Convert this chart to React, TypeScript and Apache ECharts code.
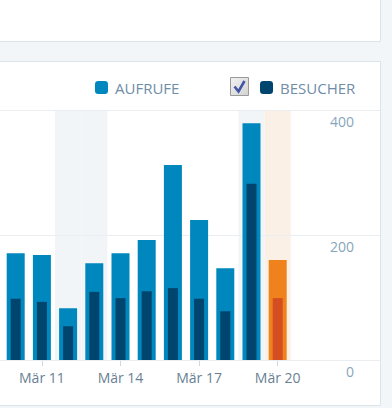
import React, { useEffect, useRef } from "react";
import * as echarts from "echarts";

const categories = ["Mär 10", "Mär 11", "Mär 12", "Mär 13", "Mär 14", "Mär 15", "Mär 16", "Mär 17", "Mär 18", "Mär 19", "Mär 20"];
const views = [171, 168, 83, 155, 171, 192, 312, 224, 147, 379, 160];
const visitors = [98, 93, 54, 109, 99, 110, 115, 98, 78, 282, 99];
const weekend = [false, false, true, true, false, false, false, false, false, true, true];
const selectedIndex = 10;
const yTicks = [0, 200, 400];

const FONT = "'Open Sans', 'Noto Sans', sans-serif";

export default function App() {
  const ref = useRef<HTMLDivElement>(null);
  useEffect(() => {
    document.body.style.margin = "0";
    const chart = echarts.init(ref.current!, null, { renderer: "svg" });
    const yMax = yTicks[yTicks.length - 1];
    const tickInterval = (i: number) => i % 3 === 1;

    const shadeData = weekend.map((w, i) =>
      w || i === selectedIndex
        ? { value: yMax, itemStyle: { color: i === selectedIndex ? "#fbf0e6" : "#f2f5f8" } }
        : null
    );
    const viewsData = views.map((v, i) =>
      i === selectedIndex ? { value: v, itemStyle: { color: "#f0821e" } } : v
    );
    const visitorsData = visitors.map((v, i) =>
      i === selectedIndex ? { value: v, itemStyle: { color: "#d54e21" } } : v
    );

    chart.setOption({
      animation: false,
      backgroundColor: "#f3f6f8",
      textStyle: { fontFamily: FONT },
      grid: [
        { left: 2.6, right: 101.2, top: 110, bottom: 48 },
        { left: 0, right: 12, top: 110, bottom: 48 },
      ],
      legend: [
        {
          data: ["AUFRUFE"],
          left: 95,
          top: 80,
          itemWidth: 13,
          itemHeight: 13,
          icon: "roundRect",
          selectedMode: false,
          padding: 0,
          textStyle: { color: "#6f8da8", fontSize: 15, fontFamily: FONT, padding: [0, 0, 0, 2] },
        },
        {
          data: ["BESUCHER"],
          left: 260,
          top: 80,
          itemWidth: 13,
          itemHeight: 13,
          icon: "roundRect",
          selectedMode: false,
          padding: 0,
          textStyle: { color: "#6f8da8", fontSize: 15, fontFamily: FONT, padding: [0, 0, 0, 2] },
        },
      ],
      graphic: [
        {
          type: "rect",
          z: -10,
          shape: { x: -2, y: -2, width: 382.5, height: 43.5 },
          style: { fill: "#ffffff", stroke: "#dbe4ea", lineWidth: 1 },
        },
        {
          type: "rect",
          z: -10,
          shape: { x: -2, y: 61.5, width: 382.5, height: 344 },
          style: { fill: "#ffffff", stroke: "#dbe4ea", lineWidth: 1 },
        },
        {
          type: "rect",
          z: 10,
          shape: { x: 230.5, y: 77.5, width: 18, height: 18 },
          style: {
            fill: new echarts.graphic.LinearGradient(0, 0, 1, 1, [
              { offset: 0, color: "#f2f2f2" },
              { offset: 1, color: "#d2d2d2" },
            ]),
            stroke: "#9a9a9a",
            lineWidth: 1,
          },
        },
        {
          type: "polyline",
          z: 11,
          shape: { points: [[234.5, 86.5], [238.5, 91.5], [244.5, 81]] },
          style: { stroke: "#4356a6", lineWidth: 2.6, fill: null },
        },
      ],
      xAxis: [
        {
          type: "category",
          gridIndex: 0,
          data: categories,
          axisLine: { show: false },
          axisTick: {
            show: true,
            alignWithLabel: true,
            interval: tickInterval,
            length: 6,
            lineStyle: { color: "#cdd8e0" },
          },
          axisLabel: {
            interval: tickInterval,
            color: "#697f93",
            fontSize: 14,
            fontFamily: FONT,
            margin: 10,
          },
          splitLine: { show: false },
        },
        { type: "category", gridIndex: 0, data: categories, show: false },
        { type: "category", gridIndex: 0, data: categories, show: false },
        {
          type: "value",
          gridIndex: 1,
          min: 0,
          max: 1,
          axisLine: { show: true, lineStyle: { color: "#e1e8ed" } },
          axisTick: { show: false },
          axisLabel: { show: false },
          splitLine: { show: false },
        },
      ],
      yAxis: [
        { type: "value", gridIndex: 0, min: 0, max: yMax, show: false },
        {
          type: "value",
          gridIndex: 1,
          min: 0,
          max: yMax,
          interval: 200,
          position: "right",
          z: 1,
          axisLine: { show: false },
          axisTick: { show: false },
          splitLine: { show: true, lineStyle: { color: "#eaeef1", width: 1 } },
          axisLabel: {
            inside: true,
            margin: 26,
            color: "#87a6bc",
            fontSize: 14,
            fontFamily: FONT,
            verticalAlign: "top",
            lineHeight: 14,
            padding: [4, 0, 0, 0],
            showMinLabel: true,
            showMaxLabel: true,
          },
        },
      ],
      series: [
        {
          name: "shade",
          type: "bar",
          xAxisIndex: 2,
          yAxisIndex: 0,
          barWidth: "100%",
          z: 0,
          silent: true,
          data: shadeData,
        },
        {
          name: "AUFRUFE",
          type: "bar",
          xAxisIndex: 0,
          yAxisIndex: 0,
          barWidth: 18,
          z: 3,
          itemStyle: { color: "#0087be" },
          data: viewsData,
        },
        {
          name: "BESUCHER",
          type: "bar",
          xAxisIndex: 1,
          yAxisIndex: 0,
          barWidth: 10,
          z: 4,
          itemStyle: { color: "#00456e" },
          data: visitorsData,
        },
      ],
    });
    return () => chart.dispose();
  }, []);
  return <div ref={ref} style={{ position: "absolute", left: 0, top: 0, width: 392, height: 408 }} />;
}
